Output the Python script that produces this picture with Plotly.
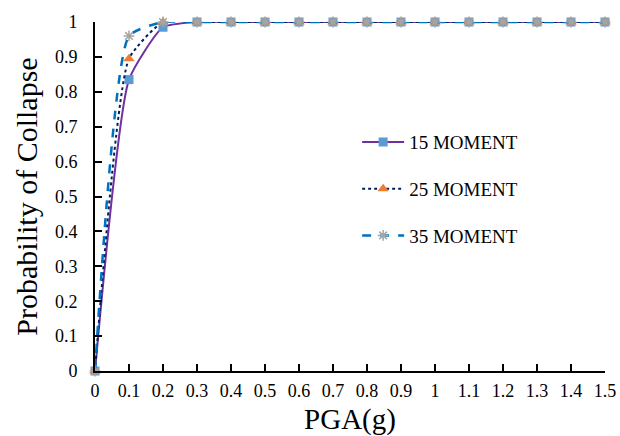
import plotly.graph_objects as go

pga = [0, 0.1, 0.2, 0.3, 0.4, 0.5, 0.6, 0.7, 0.8, 0.9, 1.0, 1.1, 1.2, 1.3, 1.4, 1.5]
p15 = [0, 0.835, 0.985, 1, 1, 1, 1, 1, 1, 1, 1, 1, 1, 1, 1, 1]
p25 = [0, 0.895, 1.0, 1, 1, 1, 1, 1, 1, 1, 1, 1, 1, 1, 1, 1]
p35 = [0, 0.96, 1.0, 1, 1, 1, 1, 1, 1, 1, 1, 1, 1, 1, 1, 1]
names = ["15 MOMENT", "25 MOMENT", "35 MOMENT"]
xticks = [0, 0.1, 0.2, 0.3, 0.4, 0.5, 0.6, 0.7, 0.8, 0.9, 1, 1.1, 1.2, 1.3, 1.4, 1.5]
yticks = [0, 0.1, 0.2, 0.3, 0.4, 0.5, 0.6, 0.7, 0.8, 0.9, 1]

FONT = "Liberation Serif"

fig = go.Figure()
styles = [
    dict(line=dict(color="#7030A0", width=2, dash="solid", shape="spline", smoothing=0.5),
         marker=dict(symbol="square", size=9, color="#5B9BD5")),
    dict(line=dict(color="#002060", width=2, dash="dot", shape="spline", smoothing=0.5),
         marker=dict(symbol="triangle-up", size=10, color="#ED7D31")),
    dict(line=dict(color="#0070C0", width=2.5, dash="dash", shape="spline", smoothing=0.5),
         marker=dict(symbol="asterisk-open", size=9, color="#A5A5A5", line=dict(color="#A5A5A5", width=1.5))),
]
for i, (ys, nm) in enumerate(zip([p15, p25, p35], names)):
    fig.add_trace(go.Scatter(x=pga, y=ys, name=nm, mode="lines+markers",
                             cliponaxis=False, legendgroup=nm, **styles[i]))

fig.update_layout(
    width=620, height=436,
    margin=dict(l=95, r=15, t=22, b=65),
    paper_bgcolor="white", plot_bgcolor="white",
    font=dict(family=FONT, color="black", size=18),
    legend=dict(x=0.514, y=0.71, xanchor="left", yanchor="top",
                bgcolor="rgba(0,0,0,0)", font=dict(family=FONT, size=19),
                tracegroupgap=19, itemwidth=42),
    showlegend=True,
)
fig.update_xaxes(range=[0, 1.5], tickvals=xticks, ticktext=[f"{v:g}" for v in xticks],
                 showline=True, linecolor="black", linewidth=2, automargin=False,
                 ticks="inside", ticklen=7, tickwidth=2, tickcolor="black",
                 showgrid=False, zeroline=False, ticklabelstandoff=2,
                 title=dict(text="PGA(g)", font=dict(family=FONT, size=29), standoff=11),
                 tickfont=dict(family=FONT, size=18))
fig.update_yaxes(range=[0, 1], tickvals=yticks, ticktext=[f"{v:g}" for v in yticks],
                 showline=True, linecolor="black", linewidth=2, automargin=False,
                 ticks="inside", ticklen=7, tickwidth=2, tickcolor="black",
                 showgrid=False, zeroline=False, ticklabelstandoff=12,
                 title=dict(text="Probability of Collapse", font=dict(family=FONT, size=30), standoff=8),
                 tickfont=dict(family=FONT, size=18))

fig.write_html("out.html")
